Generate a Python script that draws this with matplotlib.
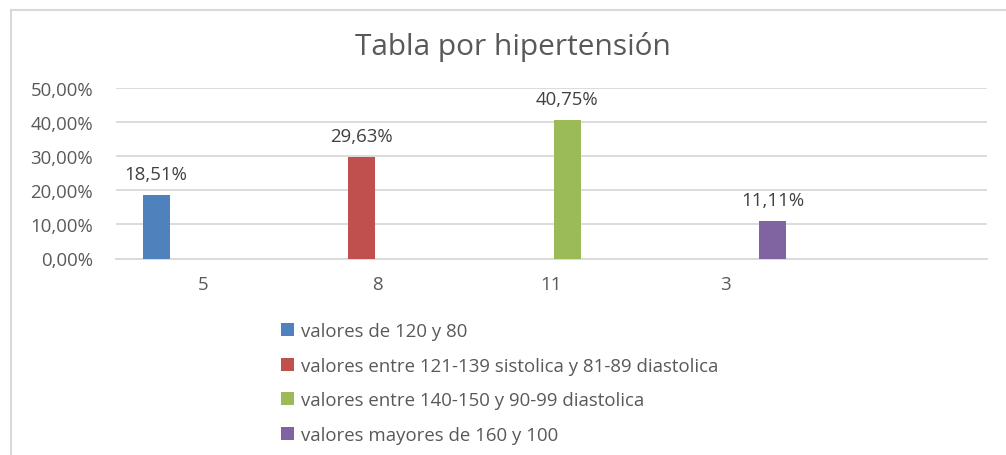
import matplotlib
matplotlib.use("Agg")
import matplotlib.pyplot as plt
from matplotlib.lines import Line2D
import numpy as np

categories = ["5", "8", "11", "3", ""]
series_labels = [
    "valores de 120 y 80",
    "valores entre 121-139 sistolica y 81-89 diastolica",
    "valores entre 140-150 y 90-99 diastolica",
    "valores mayores de 160 y 100",
]
series_values = [0.1851, 0.2963, 0.4075, 0.1111]
series_colors = ["#4F81BD", "#C0504D", "#9BBB59", "#8064A2"]
yticks = [0.0, 0.1, 0.2, 0.3, 0.4, 0.5]
title = "Tabla por hipertensión"

W, H = 1006, 456
DPI = 100
plt.rcParams['font.family'] = ['Open Sans', 'DejaVu Sans']
TXT = "#595959"
FS = 13.4

fig = plt.figure(figsize=(W / DPI, H / DPI), dpi=DPI)
fig.patch.set_facecolor("white")

left, right = 116, 987
top, bottom = 89, 259.5
ax = fig.add_axes([left / W, 1 - bottom / H, (right - left) / W, (bottom - top) / H])

n_cat = len(categories)
x = np.arange(n_cat)
n_ser = len(series_values)
step = 0.18
width = 0.155
handles = []
for i, (lab, val, col) in enumerate(zip(series_labels, series_values, series_colors)):
    vals = [val if j == i else 0 for j in range(n_cat)]
    off = (i - (n_ser - 1) / 2) * step
    b = ax.bar(x + off, vals, width=width, color=col, label=lab, zorder=3)
    handles.append(b)
    ax.annotate(f"{val*100:.2f}%".replace(".", ","), (x[i] + off, val),
                xytext=(0, 21), textcoords="offset pixels",
                ha="center", va="center", fontsize=FS, color="#404040", zorder=4)

ax.set_xlim(-0.5, n_cat - 0.5)
ax.set_ylim(0, 0.5)
ax.set_yticks(yticks)
ax.set_yticklabels([f"{v*100:.2f}%".replace(".", ",") for v in yticks])
ax.set_xticks(x)
ax.set_xticklabels(categories)
ax.tick_params(axis="both", length=0, labelsize=FS, labelcolor=TXT)
ax.tick_params(axis="y", pad=16.5)
ax.tick_params(axis="x", pad=12)
ax.grid(axis="y", color="#D9D9D9", linewidth=1.3, zorder=0)
for s in ["top", "right", "left"]:
    ax.spines[s].set_visible(False)
ax.spines["bottom"].set_color("#D9D9D9")
ax.spines["bottom"].set_linewidth(1.3)

fig.text(513 / W, 1 - 47 / H, title, ha="center", va="center", fontsize=21.5, color=TXT)

fs_px = FS * DPI / 72
leg = ax.legend(handles=handles, loc="upper left",
                bbox_to_anchor=(281 / W, 1 - 323 / H), bbox_transform=fig.transFigure,
                frameon=False, fontsize=FS, labelcolor=TXT,
                handlelength=13 / fs_px, handleheight=13 / fs_px, handletextpad=7 / fs_px,
                labelspacing=0.89, borderpad=0, borderaxespad=0)

# chart border
fig.add_artist(Line2D([10.5 / W, 10.5 / W], [0, 1 - 11 / H], color="#D9D9D9", linewidth=1.5))
fig.add_artist(Line2D([10.5 / W, 1.0], [1 - 11 / H, 1 - 11 / H], color="#D9D9D9", linewidth=1.5))

fig.savefig("out.png", dpi=DPI, facecolor="white")
